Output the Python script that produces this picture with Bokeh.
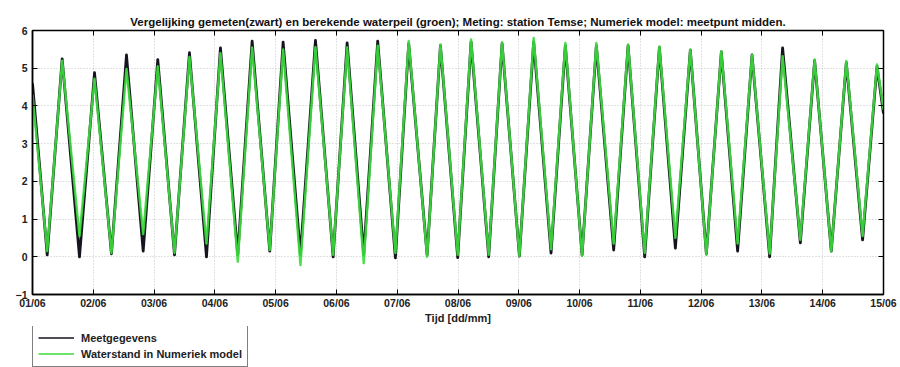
from bokeh.plotting import figure
from bokeh.layouts import column
from bokeh.models import LinearAxis, FixedTicker, Legend, LegendItem
from bokeh.embed import file_html
from bokeh.resources import INLINE

# Days since 01/06 00:00 and their axis labels
day_ticks = list(range(15))
day_labels = ["01/06", "02/06", "03/06", "04/06", "05/06", "06/06", "07/06", "08/06",
              "09/06", "10/06", "11/06", "12/06", "13/06", "14/06", "15/06"]
level_ticks = [-1, 0, 1, 2, 3, 4, 5, 6]

# Times (days) of low and high water
lw_days = [0.242, 0.773, 1.299, 1.821, 2.336, 2.862, 3.377, 3.903, 4.408, 4.946,
           5.449, 5.970, 6.492, 6.995, 7.505, 8.010, 8.531, 9.041, 9.561, 10.071,
           10.576, 11.086, 11.600, 12.127, 12.632, 13.141, 13.656]
hw_days = [0.488, 1.020, 1.546, 2.061, 2.582, 3.092, 3.613, 4.123, 4.655, 5.176,
           5.679, 6.189, 6.711, 7.215, 7.725, 8.245, 8.766, 9.276, 9.798, 10.313,
           10.822, 11.332, 11.837, 12.340, 12.867, 13.388, 13.893]

# Measured water level (m), station Temse
meas_start = 4.6
meas_lw = [0.05, 0.00, 0.08, 0.15, 0.05, 0.00, 0.05, 0.15, 0.05, 0.00,
           0.05, -0.03, 0.05, -0.02, 0.00, 0.02, 0.10, 0.05, 0.18, 0.00,
           0.23, 0.08, 0.15, 0.00, 0.37, 0.15, 0.45]
meas_hw = [5.25, 4.88, 5.35, 5.23, 5.41, 5.54, 5.72, 5.69, 5.74, 5.67,
           5.72, 5.65, 5.60, 5.70, 5.65, 5.70, 5.60, 5.60, 5.60, 5.55,
           5.48, 5.43, 5.35, 5.54, 5.20, 5.15, 5.05]
meas_end = 3.8

# Computed water level (m), numerical model, midpoint
model_start = 4.3
model_lw = [0.15, 0.55, 0.10, 0.60, 0.10, 0.35, -0.13, 0.18, -0.22, 0.05,
            -0.17, 0.10, 0.00, 0.05, 0.05, 0.02, 0.20, 0.02, 0.35, 0.10,
            0.50, 0.05, 0.35, 0.08, 0.45, 0.15, 0.55]
model_hw = [5.20, 4.72, 4.98, 5.05, 5.30, 5.40, 5.55, 5.50, 5.56, 5.55,
            5.60, 5.72, 5.63, 5.76, 5.69, 5.80, 5.67, 5.67, 5.63, 5.58,
            5.50, 5.45, 5.36, 5.32, 5.23, 5.19, 5.10]
model_end = 3.9

MEAS_COLOR = "#15151f"
MODEL_COLOR = "#3ddc3d"


def tide_series(start, lows, highs, end):
    t = [day_ticks[0]]
    v = [start]
    for tl, lo, th, hi in zip(lw_days, lows, hw_days, highs):
        t += [tl, th]
        v += [lo, hi]
    t.append(day_ticks[-1])
    v.append(end)
    return t, v


t_meas, v_meas = tide_series(meas_start, meas_lw, meas_hw, meas_end)
t_model, v_model = tide_series(model_start, model_lw, model_hw, model_end)

FONT = "Liberation Sans"

p = figure(width=900, height=326, x_range=(0, 14), y_range=(-1, 6),
           output_backend="svg", toolbar_location=None,
           min_border_left=32, min_border_right=17, min_border_top=30, min_border_bottom=31)

p.title.text = ("Vergelijking gemeten(zwart) en berekende waterpeil (groen); "
                "Meting: station Temse; Numeriek model: meetpunt midden.")
p.title.align = "center"
p.title.text_font = FONT
p.title.text_font_size = "11.5px"
p.title.text_font_style = "bold"
p.title.text_color = "#111111"
p.title.standoff = 6

p.outline_line_color = "black"
p.outline_line_width = 1.5

for ax in (p.xaxis[0], p.yaxis[0]):
    ax.major_tick_in = 5
    ax.major_tick_out = 0
    ax.minor_tick_line_color = None
    ax.axis_line_color = "black"
    ax.axis_line_width = 1.5
    ax.major_tick_line_color = "black"
    ax.major_label_text_font = FONT
    ax.major_label_text_font_size = "10.5px"
    ax.major_label_text_font_style = "bold"
    ax.major_label_text_color = "#222222"

p.xaxis.ticker = FixedTicker(ticks=day_ticks)
p.xaxis.major_label_overrides = dict(zip(day_ticks, day_labels))
p.xaxis.major_label_standoff = 2
p.xaxis.axis_label = "Tijd [dd/mm]"
p.xaxis.axis_label_text_font = FONT
p.xaxis.axis_label_text_font_size = "11px"
p.xaxis.axis_label_text_font_style = "bold"
p.xaxis.axis_label_text_color = "#222222"
p.xaxis.axis_label_standoff = 0
p.yaxis.ticker = FixedTicker(ticks=level_ticks)
p.yaxis.major_label_standoff = 5

# Mirrored tick marks on the top and right of the box (unlabelled)
top = LinearAxis(ticker=FixedTicker(ticks=day_ticks), major_tick_in=5, major_tick_out=0,
                 minor_tick_line_color=None,
                 major_label_overrides={t: "" for t in day_ticks},
                 major_label_standoff=0, axis_line_color="black")
right = LinearAxis(ticker=FixedTicker(ticks=level_ticks), major_tick_in=5, major_tick_out=0,
                   minor_tick_line_color=None,
                   major_label_overrides={t: "" for t in level_ticks},
                   major_label_standoff=0, axis_line_color="black")
p.add_layout(top, "above")
p.add_layout(right, "right")

p.xgrid.ticker = FixedTicker(ticks=day_ticks)
p.ygrid.ticker = FixedTicker(ticks=level_ticks)
for g in (p.xgrid[0], p.ygrid[0]):
    g.grid_line_color = "#c4c4c4"
    g.grid_line_dash = "1 2"
    g.grid_line_width = 1

p.line(t_meas, v_meas, line_color=MEAS_COLOR, line_width=2.8, line_join="round")
p.line(t_model, v_model, line_color=MODEL_COLOR, line_width=2.4, line_alpha=0.92,
       line_join="round")

# Legend strip underneath the chart (its frame lines up with the chart's frame)
leg = figure(width=900, height=41, output_backend="svg", toolbar_location=None,
             min_border=0, x_range=(0, 1), y_range=(0, 1),
             x_axis_type=None, y_axis_type=None)
leg.grid.visible = False
leg.outline_line_color = None
nan = float("nan")
k_meas = leg.line([nan], [nan], line_color=MEAS_COLOR, line_width=1.5)
k_model = leg.line([nan], [nan], line_color=MODEL_COLOR, line_width=1.5)
legend = Legend(items=[LegendItem(label="Meetgegevens", renderers=[k_meas]),
                       LegendItem(label="Waterstand in Numeriek model", renderers=[k_model])],
                location=(0, 0), orientation="vertical",
                border_line_color="black", border_line_width=1.2,
                label_text_font=FONT, label_text_font_size="11px",
                label_text_font_style="bold", label_text_color="#222222",
                label_height=15, glyph_height=15, glyph_width=36, spacing=1,
                padding=5, margin=0, label_standoff=7, background_fill_alpha=1)
leg.add_layout(legend)

open("out.html", "w").write(file_html(column(p, leg, spacing=0), INLINE))
